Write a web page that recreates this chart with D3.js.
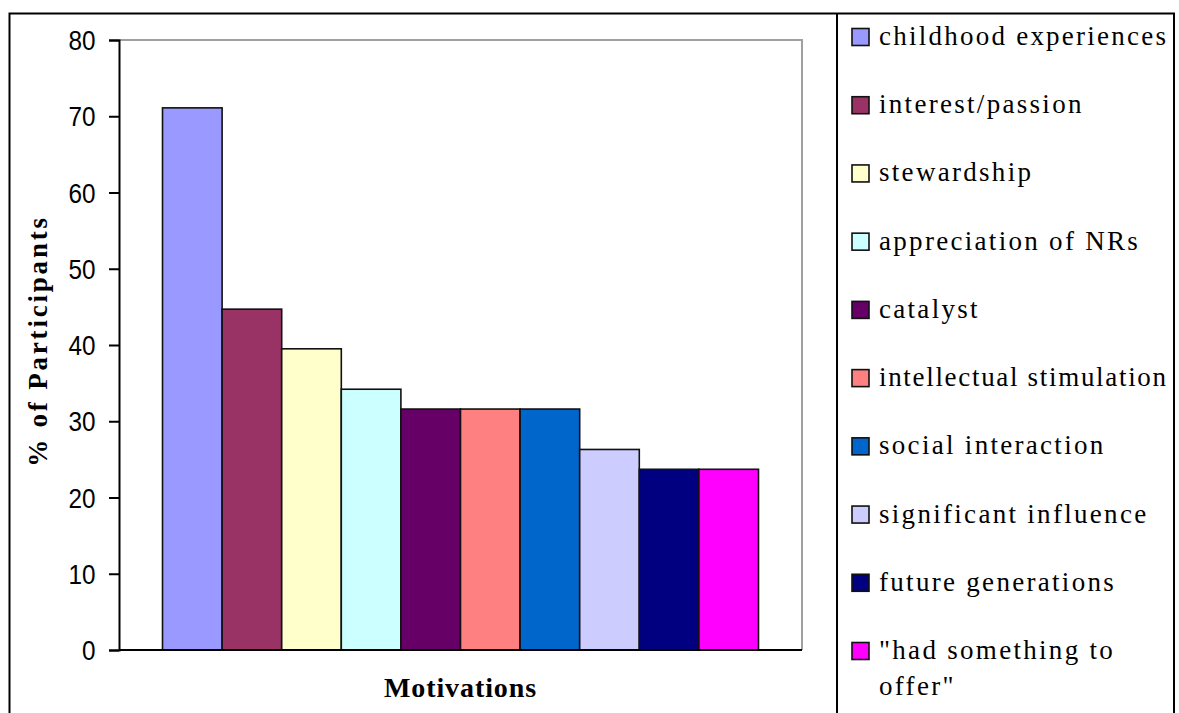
<!DOCTYPE html>
<html>
<head>
<meta charset="utf-8">
<script src="https://cdn.jsdelivr.net/npm/d3@7"></script>
<style>
  html, body { margin: 0; padding: 0; background: #fff; }
  svg { display: block; }
</style>
</head>
<body>
<svg id="chart" width="1179" height="713"></svg>
<script>
// ---- data ----
const categories = ["Motivations"];
const seriesNames = [
  "childhood experiences",
  "interest/passion",
  "stewardship",
  "appreciation of NRs",
  "catalyst",
  "intellectual stimulation",
  "social interaction",
  "significant influence",
  "future generations",
  "\"had something to offer\""
];
const seriesValues = [71.1, 44.7, 39.5, 34.2, 31.6, 31.6, 31.6, 26.3, 23.7, 23.7];
const seriesColors = ["#9999FF", "#993366", "#FFFFCC", "#CCFFFF", "#660066",
                      "#FF8080", "#0066CC", "#CCCCFF", "#000080", "#FF00FF"];
const yTicks = [0, 10, 20, 30, 40, 50, 60, 70, 80];
const yTitle = "% of Participants";

// ---- layout ----
const svg = d3.select("#chart");
const plot = { left: 119, top: 40, right: 802, bottom: 650 };
const serif = "'Liberation Serif', 'Times New Roman', Times, serif";

// outer frame
svg.append("path")
  .attr("d", "M9.5,720 V13.5 H1174 V720")
  .attr("fill", "none").attr("stroke", "#000").attr("stroke-width", 2);
svg.append("line")
  .attr("x1", 837).attr("x2", 837).attr("y1", 13.5).attr("y2", 720)
  .attr("stroke", "#000").attr("stroke-width", 2);

const y = d3.scaleLinear().domain([0, 80]).range([plot.bottom, plot.top]);
const x0 = d3.scaleBand().domain(categories).range([plot.left, plot.right]).padding(0);
const x = d3.scaleBand().domain(seriesNames)
  .range([0, x0.bandwidth()]).paddingInner(0).paddingOuter(0.73);

// plot border (gray)
svg.append("path")
  .attr("d", `M${plot.left},${plot.top} H${plot.right} V${plot.bottom}`)
  .attr("fill", "none").attr("stroke", "#a0a0a0").attr("stroke-width", 2);

// bars
const g = svg.append("g");
categories.forEach(cat => {
  g.selectAll("rect.bar")
    .data(seriesNames.map((s, i) => ({ s, v: seriesValues[i], c: seriesColors[i] })))
    .join("rect")
    .attr("class", "bar")
    .attr("x", d => x0(cat) + x(d.s))
    .attr("y", d => y(d.v))
    .attr("width", x.bandwidth())
    .attr("height", d => y(0) - y(d.v))
    .attr("fill", d => d.c)
    .attr("stroke", "#111")
    .attr("stroke-width", 1.6);
});

// y axis
const yAxis = d3.axisLeft(y).tickValues(yTicks).tickSize(10).tickPadding(16);
const ya = svg.append("g").attr("transform", `translate(${plot.left},0)`).call(yAxis);
ya.select(".domain").attr("stroke", "#000").attr("stroke-width", 2);
ya.selectAll(".tick line").attr("stroke", "#000").attr("stroke-width", 2);
ya.selectAll(".tick text")
  .attr("font-family", "'Liberation Sans', Arial, sans-serif")
  .attr("font-size", 27).attr("fill", "#000")
  .attr("transform", "scale(0.9,1)")
  .attr("dy", "0.36em");

// x baseline
svg.append("line")
  .attr("x1", plot.left).attr("x2", plot.right)
  .attr("y1", y(0)).attr("y2", y(0))
  .attr("stroke", "#000").attr("stroke-width", 2);

// axis titles
svg.append("text")
  .attr("transform", `translate(47,${(plot.top + plot.bottom) / 2 - 4}) rotate(-90)`)
  .attr("text-anchor", "middle")
  .attr("font-family", serif)
  .attr("font-weight", "bold").attr("font-size", 27)
  .attr("letter-spacing", 2.8)
  .text(yTitle);

svg.append("text")
  .attr("x", x0(categories[0]) + x0.bandwidth() / 2)
  .attr("y", 697)
  .attr("text-anchor", "middle")
  .attr("font-family", serif)
  .attr("font-weight", "bold").attr("font-size", 28)
  .attr("letter-spacing", 0.9)
  .text(categories[0]);

// legend
const legY = d3.scalePoint().domain(seriesNames).range([37, 651]);
const leg = svg.append("g");
const maxW = 289;
seriesNames.forEach((s, i) => {
  const cy = legY(s);
  leg.append("rect")
    .attr("x", 852).attr("y", cy - 8.5).attr("width", 17).attr("height", 17)
    .attr("fill", seriesColors[i]).attr("stroke", "#111").attr("stroke-width", 1.6);
  const lines = s === "\"had something to offer\"" ? ["\"had something to", "offer\""] : [s];
  lines.forEach((ln, k) => {
    const t = leg.append("text")
      .attr("x", 879).attr("y", cy + 8 + k * 36)
      .attr("font-family", serif)
      .attr("font-size", 27).attr("letter-spacing", 2.3).attr("fill", "#000")
      .text(ln);
    if (t.node().getComputedTextLength() > maxW) {
      t.attr("letter-spacing", 0)
       .attr("textLength", maxW - 2).attr("lengthAdjust", "spacing");
    }
  });
});
</script>
</body>
</html>
